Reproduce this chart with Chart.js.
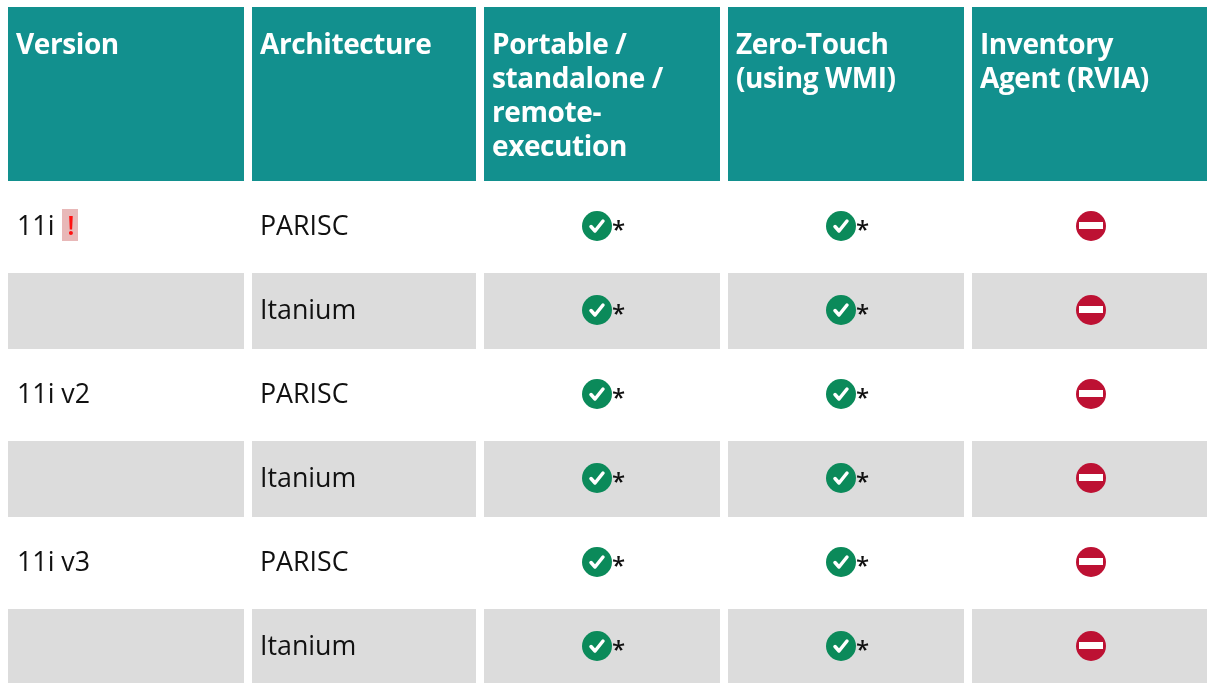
<!DOCTYPE html>
<html>
<head>
<meta charset="utf-8">
<title>Platform support</title>
<script src="https://cdn.jsdelivr.net/npm/chart.js@4"></script>
<style>
  html, body { margin: 0; padding: 0; background: #fff; overflow: hidden; }
  canvas { display: block; }
</style>
</head>
<body>
<canvas id="supportTable" width="1207" height="683"></canvas>
<script>
// table content
const headers = [
  ['Version'],
  ['Architecture'],
  ['Portable /', 'standalone /', 'remote-', 'execution'],
  ['Zero-Touch', '(using WMI)'],
  ['Inventory', 'Agent (RVIA)']
];
const versions = ['11i', '', '11i v2', '', '11i v3', ''];
const architectures = ['PARISC', 'Itanium', 'PARISC', 'Itanium', 'PARISC', 'Itanium'];
const portable = [1, 1, 1, 1, 1, 1];
const zeroTouch = [1, 1, 1, 1, 1, 1];
const agent = [0, 0, 0, 0, 0, 0];
const warnedVersions = ['11i'];

// grid lines of the table, on the x and y scales
const colStart = [8, 252, 484, 728, 972];
const colEnd = [244, 476, 720, 964, 1207];
const rowStart = [189, 273, 357, 441, 525, 609];
const rowEnd = [265, 349, 433, 517, 601, 685];
const headTop = 7;
const headBottom = 181;

const TEAL = '#12908e';
const GREY = '#dcdcdc';
const HEAD_FONT = '700 28px "Open Sans"';
const BODY_FONT = '26.8px "Open Sans"';

function makeIcon(draw) {
  const c = document.createElement('canvas');
  c.width = 32;
  c.height = 32;
  draw(c.getContext('2d'));
  return c;
}

const okIcon = makeIcon(ctx => {
  ctx.fillStyle = '#0b8a5a';
  ctx.beginPath();
  ctx.arc(16, 16, 15, 0, Math.PI * 2);
  ctx.fill();
  ctx.strokeStyle = '#fff';
  ctx.lineWidth = 3.5;
  ctx.lineCap = 'round';
  ctx.lineJoin = 'round';
  ctx.beginPath();
  ctx.moveTo(10, 16.5);
  ctx.lineTo(14, 21);
  ctx.lineTo(22, 11);
  ctx.stroke();
});

const noIcon = makeIcon(ctx => {
  ctx.fillStyle = '#bd1133';
  ctx.beginPath();
  ctx.arc(16, 16, 15, 0, Math.PI * 2);
  ctx.fill();
  ctx.fillStyle = '#fff';
  ctx.fillRect(4, 12, 24, 7);
});

function iconPoints(values, col, wanted, shift) {
  const pts = [];
  values.forEach((v, i) => {
    if (v === wanted) {
      pts.push({
        x: (colStart[col] + colEnd[col]) / 2 + shift,
        y: (rowStart[i] + rowEnd[i]) / 2 - 1
      });
    }
  });
  return pts;
}

const tablePlugin = {
  id: 'tablePlugin',
  beforeDatasetsDraw(chart) {
    const ctx = chart.ctx;
    const sx = chart.scales.x;
    const sy = chart.scales.y;
    const cell = (x0, x1, y0, y1, color) => {
      ctx.fillStyle = color;
      ctx.fillRect(sx.getPixelForValue(x0), sy.getPixelForValue(y0),
        sx.getPixelForValue(x1) - sx.getPixelForValue(x0),
        sy.getPixelForValue(y1) - sy.getPixelForValue(y0));
    };
    ctx.save();
    ctx.textBaseline = 'alphabetic';
    ctx.textAlign = 'left';

    // header row
    ctx.letterSpacing = '-0.4px';
    headers.forEach((lines, c) => {
      cell(colStart[c], colEnd[c], headTop, headBottom, TEAL);
      ctx.fillStyle = '#fff';
      ctx.font = HEAD_FONT;
      lines.forEach((line, l) => {
        ctx.fillText(line, sx.getPixelForValue(colStart[c] + 8), sy.getPixelForValue(54 + l * 34));
      });
    });
    ctx.letterSpacing = '0px';

    // body rows, every second one is grey
    versions.forEach((v, r) => {
      if (r % 2 === 1) {
        colStart.forEach((x, c) => cell(x, colEnd[c], rowStart[r], rowEnd[r], GREY));
      }
      const base = sy.getPixelForValue((rowStart[r] + rowEnd[r]) / 2 + 8);
      ctx.font = BODY_FONT;
      ctx.fillStyle = '#111';
      ctx.fillText(v, sx.getPixelForValue(colStart[0] + 9), base);
      ctx.fillText(architectures[r], sx.getPixelForValue(colStart[1] + 8), base);
      if (warnedVersions.includes(v)) {
        ctx.fillStyle = '#e8b8b8';
        ctx.fillRect(sx.getPixelForValue(62), base - 26, 16, 32);
        ctx.fillStyle = '#ff1010';
        ctx.textAlign = 'center';
        ctx.font = '600 26.8px "Open Sans"';
        ctx.fillText('!', sx.getPixelForValue(71), base);
        ctx.textAlign = 'left';
      }
    });
    ctx.restore();
  },
  afterDatasetsDraw(chart) {
    const ctx = chart.ctx;
    const sx = chart.scales.x;
    const sy = chart.scales.y;
    ctx.save();
    ctx.font = '600 24px "Open Sans"';
    ctx.fillStyle = '#111';
    ctx.textAlign = 'left';
    ctx.textBaseline = 'alphabetic';
    chart.data.datasets[0].data.forEach(p => {
      ctx.fillText('*', sx.getPixelForValue(p.x + 15), sy.getPixelForValue(p.y + 12));
    });
    ctx.restore();
  }
};

new Chart(document.getElementById('supportTable').getContext('2d'), {
  type: 'scatter',
  data: {
    datasets: [
      {
        label: 'Supported',
        data: [...iconPoints(portable, 2, 1, -5), ...iconPoints(zeroTouch, 3, 1, -5)],
        pointStyle: okIcon
      },
      {
        label: 'Not supported',
        data: iconPoints(agent, 4, 0, 1.5),
        pointStyle: noIcon
      }
    ]
  },
  options: {
    responsive: false,
    animation: false,
    layout: { padding: 0, autoPadding: false },
    scales: {
      x: { type: 'linear', min: 0, max: 1207, display: false },
      y: { type: 'linear', min: 0, max: 683, reverse: true, display: false }
    },
    plugins: {
      legend: { display: false },
      tooltip: { enabled: false }
    }
  },
  plugins: [tablePlugin]
});
</script>
</body>
</html>
